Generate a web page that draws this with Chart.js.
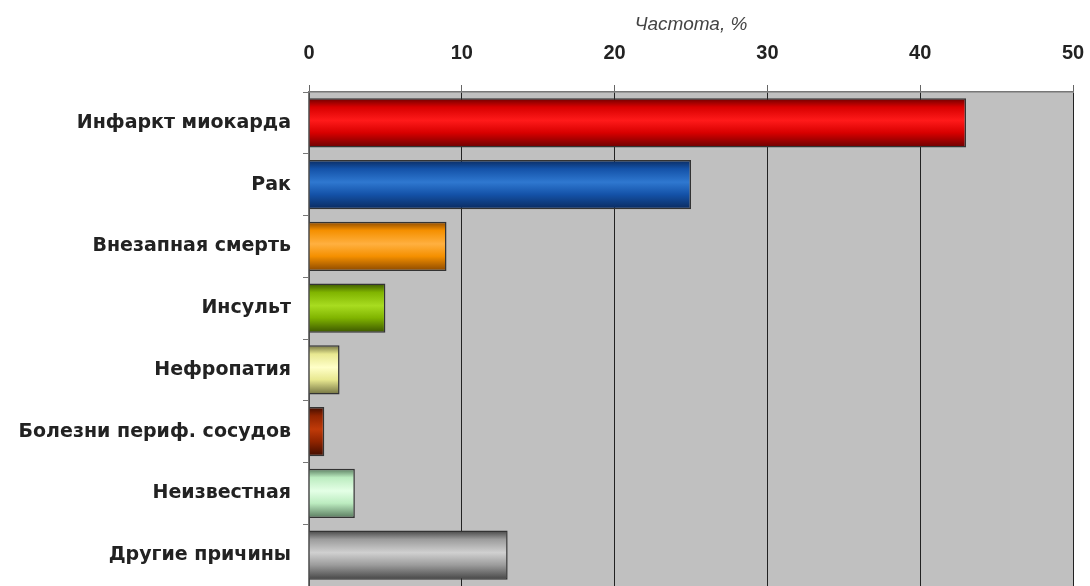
<!DOCTYPE html>
<html>
<head>
<meta charset="utf-8">
<script src="https://cdn.jsdelivr.net/npm/chart.js@4"></script>
<style>
  html, body { margin: 0; padding: 0; background: #fff; }
  #wrap { width: 1090px; height: 586px; }
</style>
</head>
<body>
<div id="wrap"><canvas id="causeChart"></canvas></div>
<script>
// data
const categories = ['Инфаркт миокарда', 'Рак', 'Внезапная смерть', 'Инсульт',
    'Нефропатия', 'Болезни периф. сосудов', 'Неизвестная', 'Другие причины'];
const frequency = [43, 25, 9, 5, 2, 1, 3, 13];
// [edge, light, base] per bar
const barColors = [
    ['#6a0000', '#ff1a1a', '#d80000'],
    ['#0a2a5e', '#2f78d0', '#1452a8'],
    ['#8a4800', '#ffb040', '#f59000'],
    ['#3a5400', '#a8dc20', '#80b400'],
    ['#707040', '#ffffc8', '#e8e890'],
    ['#3e0c00', '#c03a08', '#902400'],
    ['#587a5e', '#e4ffe6', '#bcecc0'],
    ['#444444', '#d0d0d0', '#9c9c9c']
];
const xTicks = [0, 10, 20, 30, 40, 50];

const BAR_PCT = 0.8;

function barGradient(ctx) {
    const chart = ctx.chart;
    const c = barColors[ctx.dataIndex];
    const y = chart.scales.y;
    if (!chart.chartArea || !y) return c[2];
    const center = y.getPixelForValue(ctx.dataIndex);
    const band = (chart.chartArea.bottom - chart.chartArea.top) / categories.length;
    const half = band * BAR_PCT / 2;
    const g = chart.ctx.createLinearGradient(0, center - half, 0, center + half);
    g.addColorStop(0, c[0]);
    g.addColorStop(0.18, c[2]);
    g.addColorStop(0.45, c[1]);
    g.addColorStop(0.7, c[2]);
    g.addColorStop(1, c[0]);
    return g;
}

const plotBg = {
    id: 'plotBg',
    beforeDraw(chart) {
        const a = chart.chartArea;
        const ctx = chart.ctx;
        ctx.save();
        ctx.fillStyle = '#c0c0c0';
        ctx.fillRect(a.left, a.top, a.right - a.left, a.bottom - a.top);
        ctx.restore();
    }
};

const ctx = document.getElementById('causeChart').getContext('2d');
const causeChart = new Chart(ctx, {
    type: 'bar',
    data: {
        labels: categories,
        datasets: [{
            data: frequency,
            backgroundColor: barGradient,
            borderColor: '#333',
            borderWidth: 1.5,
            barPercentage: BAR_PCT,
            categoryPercentage: 1
        }]
    },
    plugins: [plotBg],
    options: {
        indexAxis: 'y',
        responsive: true,
        maintainAspectRatio: false,
        animation: false,
        layout: { padding: { left: 0, right: 17, top: 0, bottom: 0 } },
        plugins: {
            legend: { display: false },
            tooltip: { enabled: false }
        },
        scales: {
            x: {
                position: 'top',
                min: 0,
                max: 50,
                afterBuildTicks: (s) => { s.ticks = xTicks.map(v => ({ value: v })); },
                afterFit: (s) => { s.height = 92; s.paddingLeft = 0; s.paddingRight = 0; },
                grid: { color: '#222', lineWidth: 1, tickLength: 7, tickColor: '#666' },
                border: { color: '#777', width: 1.5 },
                ticks: {
                    color: '#222',
                    padding: 20,
                    font: { family: 'Liberation Sans, Arial', size: 20, weight: 'bold' }
                },
                title: {
                    display: true,
                    text: 'Частота, %',
                    color: '#444',
                    padding: { top: 13, bottom: 0 },
                    font: { family: 'Liberation Sans, Arial', size: 19, style: 'italic' }
                }
            },
            y: {
                afterFit: (s) => { s.width = 309; s.paddingTop = 0; s.paddingBottom = 0; },
                grid: { drawOnChartArea: false, tickLength: 6, color: '#777', offset: true },
                border: { color: '#777', width: 1.5 },
                ticks: {
                    color: '#222',
                    padding: 12,
                    font: { family: 'DejaVu Sans, Arial', size: 19, weight: 'bold' }
                }
            }
        }
    }
});
</script>
</body>
</html>
